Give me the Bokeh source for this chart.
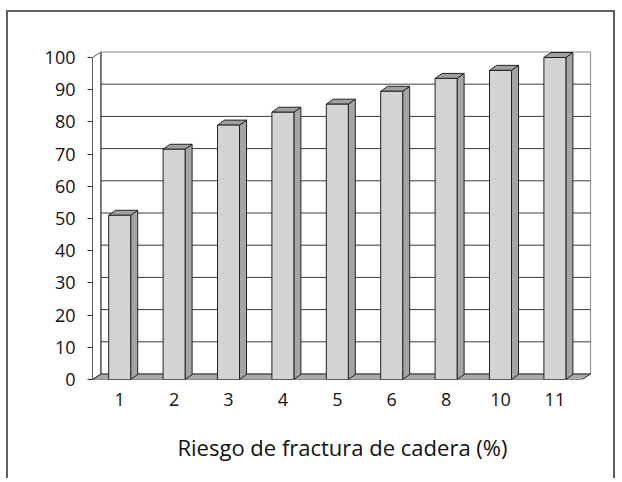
from bokeh.plotting import figure
from bokeh.models import FixedTicker
from bokeh.embed import file_html
from bokeh.resources import INLINE

# ---- data ----
categories = ["1", "2", "3", "4", "5", "6", "8", "10", "11"]
values = [51, 71.5, 79, 83, 85.5, 89.5, 93.5, 96, 100]
y_ticks = [0, 10, 20, 30, 40, 50, 60, 70, 80, 90, 100]
x_title = "Riesgo de fractura de cadera (%)"

# ---- geometry (data units) ----
n = len(categories)
px_x = 54.4      # pixels per category
px_y = 3.22      # pixels per unit
x_start, x_end = -0.5, -0.5 + 500 / px_x
y_start, y_end = 0, 331 / px_y
wall_dx, wall_dy = 8.5 / px_x, 5.5 / px_y
bar_dx, bar_dy = 7 / px_x, 5 / px_y
bar_w = 22 / px_x
ymax = max(y_ticks)

# canvas origin on the page (after the CSS border) is at (8, 12)
OX, OY = 8, 12
W, H = 609, 468
p = figure(width=W, height=H, x_range=(x_start, x_end), y_range=(y_start, y_end),
           output_backend="svg", toolbar_location=None,
           min_border_left=92 - OX, min_border_right=W - (592 - OX), min_border_top=48 - OY,
           min_border_bottom=H - (379 - OY))
p.margin = (10, 0, 0, 6)
p.styles = {"border-left": "2px solid #5f5f5f", "border-top": "2px solid #5f5f5f",
            "border-right": "2px solid #5f5f5f"}
p.outline_line_color = None
p.grid.visible = False
p.background_fill_color = "white"

L, R = x_start, x_start + n
# left side wall
p.patch([L, L + wall_dx, L + wall_dx, L], [0, wall_dy, ymax + wall_dy, ymax],
        fill_color="white", line_color="#555555", line_width=1)
# back wall
p.patch([L + wall_dx, R + wall_dx, R + wall_dx, L + wall_dx],
        [wall_dy, wall_dy, ymax + wall_dy, ymax + wall_dy],
        fill_color="white", line_color="#8a8a8a", line_width=1)
# gridlines on back wall
gx = [[L + wall_dx, R + wall_dx] for t in y_ticks[1:-1]]
gy = [[t + wall_dy, t + wall_dy] for t in y_ticks[1:-1]]
p.multi_line(gx, gy, line_color="#3a3a3a", line_width=1)
p.line([L + wall_dx, L + wall_dx], [wall_dy, ymax + wall_dy], line_color="#444444", line_width=1)
# floor
p.patch([L, R, R + wall_dx, L + wall_dx], [0, 0, wall_dy, wall_dy],
        fill_color="#a8a9ab", line_color="#2a2a2a", line_width=1)

# bars
xs_c = list(range(n))
side_x, side_y, top_x, top_y = [], [], [], []
for i, v in zip(xs_c, values):
    x0, x1 = i - bar_w / 2, i + bar_w / 2
    side_x.append([x1, x1 + bar_dx, x1 + bar_dx, x1])
    side_y.append([0, bar_dy, v + bar_dy, v])
    top_x.append([x0, x1, x1 + bar_dx, x0 + bar_dx])
    top_y.append([v, v, v + bar_dy, v + bar_dy])
p.patches(side_x, side_y, fill_color="#a4a5a7", line_color="#222222", line_width=1)
p.patches(top_x, top_y, fill_color="#a0a0a2", line_color="#222222", line_width=1)
p.vbar(x=xs_c, top=values, bottom=0, width=bar_w,
       fill_color="#d2d3d5", line_color="#222222", line_width=1)

# axes
p.yaxis.ticker = FixedTicker(ticks=y_ticks)
p.yaxis.bounds = (0, 100)
p.yaxis.axis_line_color = "#555555"
p.yaxis.major_tick_line_color = "#333333"
p.yaxis.major_tick_in = 0
p.yaxis.major_tick_out = 5
p.yaxis.minor_tick_line_color = None
p.yaxis.major_label_standoff = 12

p.xaxis.ticker = FixedTicker(ticks=xs_c)
p.xaxis.major_label_overrides = {i: c for i, c in zip(xs_c, categories)}
p.xaxis.axis_line_color = None
p.xaxis.major_tick_line_color = None
p.xaxis.minor_tick_line_color = None
p.xaxis.major_label_standoff = 7
p.xaxis.axis_label = x_title
p.xaxis.axis_label_standoff = 23

for ax in (p.xaxis, p.yaxis):
    ax.major_label_text_font = "Open Sans"
    ax.major_label_text_font_size = "18px"
    ax.major_label_text_color = "#111111"
p.xaxis.axis_label_text_font = "Open Sans"
p.xaxis.axis_label_text_font_size = "22px"
p.xaxis.axis_label_text_font_style = "normal"
p.xaxis.axis_label_text_color = "#111111"

open("out.html", "w").write(file_html(p, INLINE))
